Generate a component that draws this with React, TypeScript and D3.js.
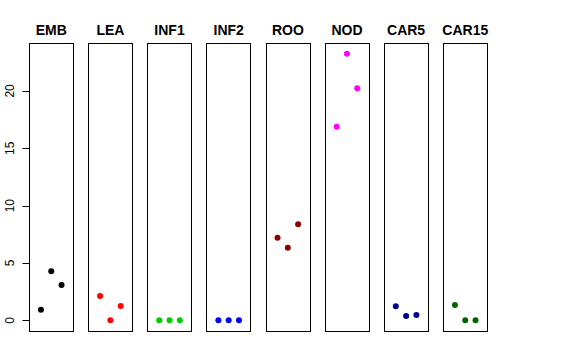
import React, { useEffect, useRef } from "react";
import * as d3 from "d3";

const tissues = ["EMB", "LEA", "INF1", "INF2", "ROO", "NOD", "CAR5", "CAR15"];
const colors = ["#000000", "#ff0000", "#00cd00", "#0000ff", "#8b0000", "#ff00ff", "#00008b", "#006400"];

// three replicates per tissue
const embValues = [0.92, 4.27, 3.08];
const leaValues = [2.12, 0, 1.25];
const inf1Values = [0, 0, 0];
const inf2Values = [0, 0, 0];
const rooValues = [7.2, 6.33, 8.37];
const nodValues = [16.88, 23.25, 20.23];
const car5Values = [1.22, 0.37, 0.46];
const car15Values = [1.33, 0, 0];

const yTicks = [0, 5, 10, 15, 20];

const App = () => {
  const svgRef = useRef<SVGSVGElement>(null);

  useEffect(() => {
    const series = [embValues, leaValues, inf1Values, inf2Values, rooValues, nodValues, car5Values, car15Values];
    const width = 576;
    const height = 360;

    const svg = d3.select(svgRef.current);
    svg.selectAll("*").remove();
    svg.attr("width", width).attr("height", height);

    const all = series.flat();
    const yMin = d3.min(all) as number;
    const yMax = d3.max(all) as number;
    const pad = (yMax - yMin) * 0.04;

    const panel = d3.scaleBand().domain(tissues).range([29, 487.5]).paddingInner(0.2476).paddingOuter(0);
    const y = d3.scaleLinear().domain([yMin - pad, yMax + pad]).range([331, 43]);
    const top = y.range()[1];
    const bottom = y.range()[0];

    tissues.forEach((t, i) => {
      const left = panel(t) as number;
      const w = panel.bandwidth();
      const x = d3.scaleLinear().domain([-0.16, 4.16]).range([left, left + w]);
      const g = svg.append("g");

      g.append("rect")
        .attr("x", Math.round(left) + 0.5)
        .attr("y", Math.round(top) + 0.5)
        .attr("width", Math.round(w))
        .attr("height", Math.round(bottom - top))
        .attr("fill", "none")
        .attr("stroke", "#000")
        .attr("stroke-width", 1);

      g.selectAll("circle")
        .data(series[i])
        .enter()
        .append("circle")
        .attr("cx", (_d, j) => x(j + 1))
        .attr("cy", (d) => y(d))
        .attr("r", 3)
        .attr("fill", colors[i]);

      g.append("text")
        .attr("x", left + w / 2)
        .attr("y", 35)
        .attr("text-anchor", "middle")
        .style("font-family", "'Liberation Sans', Arial, sans-serif")
        .style("font-size", "14px")
        .style("font-weight", "700")
        .text(t);
    });

    // y axis on the first panel
    const axisX = Math.round(panel(tissues[0]) as number) + 0.5;
    const axis = svg.append("g");
    axis.append("line")
      .attr("x1", axisX).attr("x2", axisX)
      .attr("y1", y(yTicks[0])).attr("y2", y(yTicks[yTicks.length - 1]))
      .attr("stroke", "#000");
    yTicks.forEach((v) => {
      axis.append("line")
        .attr("x1", axisX - 7).attr("x2", axisX)
        .attr("y1", Math.round(y(v)) + 0.5).attr("y2", Math.round(y(v)) + 0.5)
        .attr("stroke", "#000");
      axis.append("text")
        .attr("transform", `translate(14,${y(v)}) rotate(-90)`)
        .attr("text-anchor", "middle")
        .style("font-family", "'Liberation Sans', Arial, sans-serif")
        .style("font-size", "12px")
        .text(v);
    });
  }, []);

  return (
    <div style={{ position: "absolute", left: 0, top: 0, background: "#fff" }}>
      <svg ref={svgRef} style={{ display: "block" }}></svg>
    </div>
  );
};

export default App;
